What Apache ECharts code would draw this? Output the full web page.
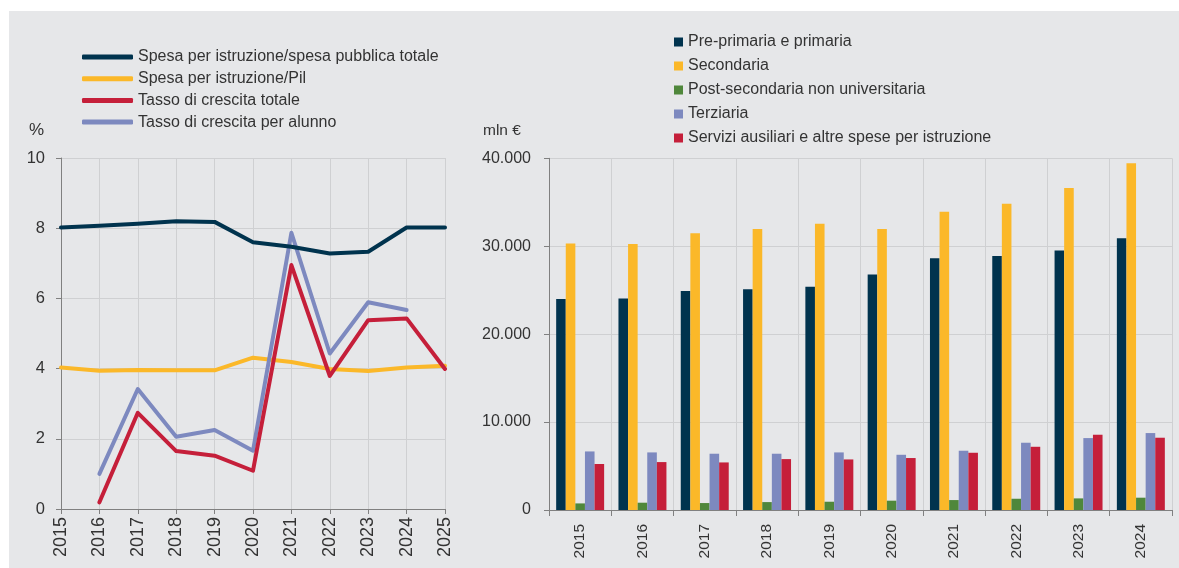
<!DOCTYPE html>
<html>
<head>
<meta charset="utf-8">
<script src="https://cdn.jsdelivr.net/npm/echarts@6/dist/echarts.min.js"></script>
<style>
html,body{margin:0;padding:0;background:#ffffff;}
#bg{position:absolute;left:9px;top:11px;width:1170px;height:557px;background:#e6e7e9;}
#main{position:absolute;left:0;top:0;width:1179px;height:568px;}
</style>
</head>
<body>
<div id="bg"></div>
<div id="main"></div>
<script>
// ---- Left chart data (%) ----
const lineYears = ['2015','2016','2017','2018','2019','2020','2021','2022','2023','2024','2025'];
const lineNames = ['Spesa per istruzione/spesa pubblica totale','Spesa per istruzione/Pil','Tasso di crescita totale','Tasso di crescita per alunno'];
const spesaSuPubblica = [8.02, 8.07, 8.13, 8.20, 8.18, 7.60, 7.47, 7.28, 7.33, 8.02, 8.02];
const spesaSuPil      = [4.03, 3.94, 3.96, 3.95, 3.95, 4.31, 4.19, 3.99, 3.93, 4.03, 4.08];
const crescitaTotale  = [null, 0.19, 2.74, 1.65, 1.52, 1.09, 6.95, 3.79, 5.38, 5.43, 3.99];
const crescitaAlunno  = [null, 1.00, 3.42, 2.06, 2.25, 1.66, 7.87, 4.43, 5.89, 5.67, null];
const leftTicks = [0, 2, 4, 6, 8, 10];

// ---- Right chart data (mln €) ----
const barYears = ['2015','2016','2017','2018','2019','2020','2021','2022','2023','2024'];
const barNames = ['Pre-primaria e primaria','Secondaria','Post-secondaria non universitaria','Terziaria','Servizi ausiliari e altre spese per istruzione'];
const prePrimaria  = [24000, 24050, 24920, 25110, 25380, 26770, 28640, 28900, 29500, 30900];
const secondaria   = [30300, 30260, 31480, 31970, 32570, 31970, 33930, 34840, 36630, 39430];
const postSecond   = [750, 830, 790, 900, 940, 1060, 1130, 1280, 1320, 1400];
const terziaria    = [6660, 6550, 6400, 6400, 6550, 6280, 6740, 7650, 8180, 8750];
const servizi      = [5230, 5450, 5410, 5790, 5750, 5910, 6510, 7190, 8560, 8220];
const rightTicks = [0, 10000, 20000, 30000, 40000];

const lineColors = ['#00334e', '#fbb829', '#c51f3a', '#7d89bf'];
const barColors  = ['#00334e', '#fbb829', '#4f873b', '#7d89bf', '#c51f3a'];

const FONT = "'Liberation Sans', Arial, sans-serif";
const TXT = '#333333';
const AXIS = '#808080';
const GRIDC = '#cfd0d2';

function fmtThousands(v){
  return String(v).replace(/\B(?=(\d{3})+(?!\d))/g, '.');
}

const chart = echarts.init(document.getElementById('main'), null, {renderer:'canvas'});

const lineData = [spesaSuPubblica, spesaSuPil, crescitaTotale, crescitaAlunno];
const barData = [prePrimaria, secondaria, postSecond, terziaria, servizi];

const series = [];
lineNames.forEach((n, i) => {
  series.push({
    name: n, type: 'line', xAxisIndex: 0, yAxisIndex: 0,
    data: lineData[i], symbol: 'none', connectNulls: false,
    lineStyle: {color: lineColors[i], width: 4, cap: 'round', join: 'round'},
    itemStyle: {color: lineColors[i]},
    z: 3 + (i === 0 ? 3 : i === 1 ? 0 : i === 2 ? 2 : 1)
  });
});
barNames.forEach((n, i) => {
  series.push({
    name: n, type: 'bar', xAxisIndex: 1, yAxisIndex: 1,
    data: barData[i], barGap: '0%', barCategoryGap: '23%',
    itemStyle: {color: barColors[i]}
  });
});

const option = {
  backgroundColor: 'transparent',
  animation: false,
  textStyle: {fontFamily: FONT, color: TXT},
  graphic: [
    {type: 'text', left: 29, top: 122, style: {text: '%', font: "17px " + FONT, fill: TXT}},
    {type: 'text', left: 483, top: 123, style: {text: 'mln €', font: "15.5px " + FONT, fill: TXT}}
  ],
  legend: [
    {
      orient: 'vertical', left: 77, top: 42,
      data: lineNames.map((n, i) => ({name: n, icon: 'roundRect', itemStyle: {color: lineColors[i]}})),
      itemWidth: 51, itemHeight: 5, itemGap: 1.7,
      textStyle: {fontFamily: FONT, fontSize: 16, color: TXT, lineHeight: 20}
    },
    {
      orient: 'vertical', left: 669, top: 27,
      data: barNames.map((n, i) => ({name: n, icon: 'rect', itemStyle: {color: barColors[i]}})),
      itemWidth: 9, itemHeight: 9, itemGap: 4,
      textStyle: {fontFamily: FONT, fontSize: 16, color: TXT, lineHeight: 20}
    }
  ],
  grid: [
    {left: 61, top: 158, right: 734, bottom: 59, containLabel: false},
    {left: 549, top: 158.3, right: 7, bottom: 58, containLabel: false}
  ],
  xAxis: [
    {
      type: 'category', gridIndex: 0, data: lineYears, boundaryGap: false,
      axisLine: {lineStyle: {color: AXIS, width: 1}},
      axisTick: {show: true, length: 5, lineStyle: {color: AXIS}},
      axisLabel: {rotate: 90, margin: 8, fontSize: 18, color: TXT, fontFamily: FONT, interval: 0},
      splitLine: {show: true, lineStyle: {color: GRIDC, width: 1}}
    },
    {
      type: 'category', gridIndex: 1, data: barYears, boundaryGap: true,
      axisLine: {lineStyle: {color: AXIS, width: 1}},
      axisTick: {show: true, length: 6, alignWithLabel: false, lineStyle: {color: AXIS}},
      axisLabel: {rotate: 90, margin: 14, fontSize: 15.5, color: TXT, fontFamily: FONT, interval: 0},
      splitLine: {show: true, lineStyle: {color: GRIDC, width: 1}}
    }
  ],
  yAxis: [
    {
      type: 'value', gridIndex: 0, min: leftTicks[0], max: leftTicks[leftTicks.length - 1], interval: 2,
      axisLine: {show: true, lineStyle: {color: AXIS, width: 1}},
      axisTick: {show: true, length: 5, lineStyle: {color: AXIS}},
      axisLabel: {margin: 16, fontSize: 16.5, color: TXT, fontFamily: FONT},
      splitLine: {show: true, lineStyle: {color: GRIDC, width: 1}}
    },
    {
      type: 'value', gridIndex: 1, min: rightTicks[0], max: rightTicks[rightTicks.length - 1], interval: 10000,
      axisLine: {show: true, lineStyle: {color: AXIS, width: 1}},
      axisTick: {show: true, length: 5, lineStyle: {color: AXIS}},
      axisLabel: {margin: 18, fontSize: 16, color: TXT, fontFamily: FONT, formatter: fmtThousands},
      splitLine: {show: true, lineStyle: {color: GRIDC, width: 1}}
    }
  ],
  series: series
};
chart.setOption(option);
</script>
</body>
</html>
